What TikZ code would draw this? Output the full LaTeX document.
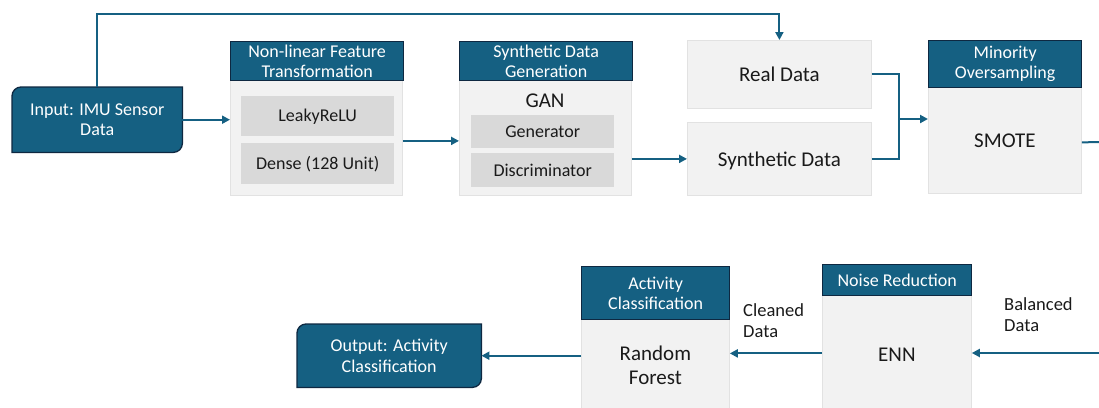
\documentclass[tikz,border=0pt]{standalone}
\usepackage{fontspec}
\setmainfont{Carlito}
\usetikzlibrary{arrows.meta,calc}
\definecolor{teal}{HTML}{156082}
\definecolor{tealedge}{HTML}{0E2841}
\definecolor{panel}{HTML}{F2F2F2}
\definecolor{panedge}{HTML}{E2E2E2}
\definecolor{inner}{HTML}{D9D9D9}
\definecolor{ink}{HTML}{1A1A1A}
\tikzset{
  hdr/.style={anchor=north west, fill=teal, draw=tealedge, line width=1.3pt,
    text=white, align=center, inner sep=0pt,
    font=\fontsize{18}{20}\selectfont},
  panelbox/.style={anchor=north west, fill=panel, draw=panedge, line width=0.8pt,
    text=ink, align=center, inner sep=0pt,
    font=\fontsize{21}{24}\selectfont},
  innerbox/.style={anchor=north west, fill=inner, draw=none, text=ink,
    align=center, inner sep=0pt, font=\fontsize{18}{20}\selectfont},
  term/.style={fill=teal, draw=tealedge, line width=1.3pt},
  termbase/.style={anchor=north west, inner sep=0pt},
  termtext/.style={text=white, align=center, inner sep=0pt,
    font=\fontsize{18}{20.5}\selectfont},
  link/.style={draw=teal, line width=2pt},
  arr/.style={link, -{Triangle[length=8pt,width=8pt]}},
  note/.style={anchor=north west, align=left, inner sep=0pt, text=ink,
    font=\fontsize{18.5}{21}\selectfont},
}
\newcommand{\termshape}[2]{%
  \draw[term] ([yshift=-#2]#1.north west) arc[start angle=180,end angle=90,radius=#2]
    -- (#1.north east) -- ([yshift=#2]#1.south east)
    arc[start angle=0,end angle=-90,radius=#2] -- (#1.south west) -- cycle;}
\begin{document}
\begin{tikzpicture}[x=1pt,y=-1pt]
\useasboundingbox (0,0) rectangle (1099,407);
\clip (0,0) rectangle (1099,407);

% input terminal
\node[termbase, minimum width=170pt, minimum height=65pt] (in) at (12,87) {};
\termshape{in}{9pt}
\node[termtext] (intext) at (in.center) {Input: IMU Sensor\\Data};

% non-linear feature transformation
\node[panelbox, minimum width=172pt, minimum height=115pt] (nlB) at (230,80) {};
\node[hdr, minimum width=173pt, minimum height=39pt] (nlH) at (230,41) {Non-linear Feature\\Transformation};
\node[innerbox, minimum width=153pt, minimum height=40pt] (leaky) at (241,96) {LeakyReLU};
\node[innerbox, minimum width=153pt, minimum height=41pt] (dense) at (241,143) {Dense (128 Unit)};

% synthetic data generation
\node[panelbox, minimum width=172pt, minimum height=115pt] (sdB) at (459,80) {};
\node[hdr, minimum width=173pt, minimum height=39pt] (sdH) at (459,41) {Synthetic Data\\Generation};
\node[text=ink, inner sep=0pt, font=\fontsize{21}{24}\selectfont] (gan) at (545,101) {GAN};
\node[innerbox, minimum width=143pt, minimum height=33pt] (gen) at (471,115) {Generator};
\node[innerbox, minimum width=143pt, minimum height=34pt] (disc) at (471,153) {Discriminator};

% data sources
\node[panelbox, minimum width=184pt, minimum height=68pt] (real) at (687,40) {Real Data};
\node[panelbox, minimum width=184pt, minimum height=73pt] (synth) at (687,122) {};
\node[text=ink, inner sep=0pt, font=\fontsize{21}{24}\selectfont] (synthtext) at ([yshift=-2pt]synth.center) {Synthetic Data};

% minority oversampling
\node[panelbox, minimum width=153pt, minimum height=106pt] (moB) at (928,87) {SMOTE};
\node[hdr, minimum width=153pt, minimum height=47pt] (moH) at (928,40) {Minority\\Oversampling};

% noise reduction
\node[panelbox, minimum width=149pt, minimum height=118pt] (nrB) at (822,295) {ENN};
\node[hdr, minimum width=149pt, minimum height=31pt] (nrH) at (822,264) {Noise Reduction};

% activity classification
\node[panelbox, minimum width=148pt, minimum height=92pt] (acB) at (581,319) {Random\\Forest};
\node[hdr, minimum width=148pt, minimum height=53pt] (acH) at (581,266) {Activity\\Classification};

% output terminal
\node[termbase, minimum width=184pt, minimum height=63pt] (out) at (297,324) {};
\termshape{out}{9pt}
\node[termtext] (outtext) at (out.center) {Output: Activity\\Classification};

% connectors
\coordinate (top) at (0,14);
\coordinate (m) at (899,119);
\coordinate (rt) at (1099,142);
\coordinate (rb) at (1099,353);

\draw[arr] (in.north) -- (in.north |- top) -| (real.north);
\draw[arr] (in.east) -- (in.east -| nlB.west);
\draw[arr] ([yshift=-3pt]nlB.east) -- ([yshift=-3pt]nlB.east -| sdB.west);
\draw[arr] (synth.west -| sdB.east) -- (synth.west);
\draw[link] (real.east) -| (m);
\draw[link] (synth.east) -| (m);
\draw[arr] (m) -- (m -| moB.west);
\draw[link] ([yshift=-2pt]moB.east) -- (rt);
\draw[arr] (rb) -- (rb -| nrB.east);
\draw[arr] ([yshift=1pt]nrB.west) -- ([yshift=1pt]nrB.west -| acB.east);
\draw[arr] (out.east -| acB.west) -- (out.east);

% edge labels
\node[note] (clean) at (743,303) {Cleaned\\Data};
\node[note] (bal) at (1004,297) {Balanced\\Data};
\end{tikzpicture}
\end{document}
